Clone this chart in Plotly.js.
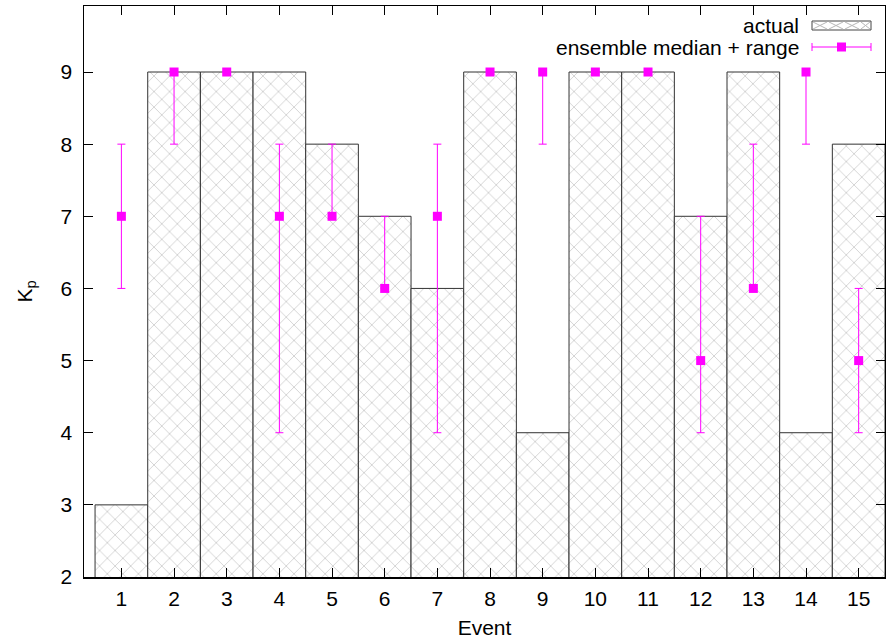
<!DOCTYPE html>
<html><head><meta charset="utf-8">
<script src="https://cdn.plot.ly/plotly-3.0.1.min.js"></script>
<style>body{margin:0;background:#fff}#c{width:886px;height:642px}</style>
</head><body><div id="c"></div>
<script>
const events = [1,2,3,4,5,6,7,8,9,10,11,12,13,14,15];
const actual = [3,9,9,9,8,7,6,9,4,9,9,7,9,4,8];
const median = [7,9,9,7,7,6,7,9,9,9,9,5,6,9,5];
const rangeLow = [6,8,9,4,7,6,4,9,8,9,9,4,6,8,4];
const rangeHigh = [8,9,9,8,8,7,8,9,9,9,9,7,8,9,6];
const yTicks = [2,3,4,5,6,7,8,9];

const L=84,R=885,T=6,B=577;
const px = p => (p-L)/(R-L);
const py = p => (B-p)/(B-T);
const font = {family:'Liberation Sans, Arial, sans-serif', size:21, color:'#000'};
const mag = '#ff00ff';

const traces = [
 {type:'bar', x:events, y:actual, base:0, width:1,
  marker:{color:'#fff', line:{color:'#333', width:1},
   pattern:{shape:'x', fgcolor:'#b4b4b4', bgcolor:'#fff', size:11, solidity:0.1}},
  showlegend:false, hoverinfo:'skip'},
 {type:'scatter', mode:'markers', x:events, y:median,
  marker:{color:mag, symbol:'square', size:9},
  error_y:{type:'data', symmetric:false,
   array: rangeHigh.map((h,i)=>h-median[i]),
   arrayminus: median.map((m,i)=>m-rangeLow[i]),
   color:mag, thickness:1, width:4},
  showlegend:false}
];

const shapes = [];
shapes.push({type:'rect', xref:'paper', yref:'paper', x0:px(812), x1:px(871), y0:py(30), y1:py(21), line:{color:'#444',width:1}, fillcolor:'#fff'});
for (let k=813; k<866; k+=16) {
  const k2 = Math.min(k+14, 870);
  shapes.push({type:'line', xref:'paper', yref:'paper', x0:px(k), x1:px(k2), y0:py(22), y1:py(29), line:{color:'#b8b8b8',width:1}});
  shapes.push({type:'line', xref:'paper', yref:'paper', x0:px(k), x1:px(k2), y0:py(29), y1:py(22), line:{color:'#b8b8b8',width:1}});
}
shapes.push({type:'line', xref:'paper', yref:'paper', x0:px(812), x1:px(871), y0:py(47), y1:py(47), line:{color:mag,width:1}});
shapes.push({type:'line', xref:'paper', yref:'paper', x0:px(812), x1:px(812), y0:py(43), y1:py(51), line:{color:mag,width:1}});
shapes.push({type:'line', xref:'paper', yref:'paper', x0:px(871), x1:px(871), y0:py(43), y1:py(51), line:{color:mag,width:1}});
shapes.push({type:'rect', xref:'paper', yref:'paper', x0:px(837), x1:px(846), y0:py(51.5), y1:py(42.5), line:{width:0}, fillcolor:mag});

const annotations = [
 {xref:'paper', yref:'paper', x:px(801), y:py(25), xanchor:'right', yanchor:'middle', text:'actual', showarrow:false, font:font},
 {xref:'paper', yref:'paper', x:px(801), y:py(47), xanchor:'right', yanchor:'middle', text:'ensemble median + range', showarrow:false, font:font}
];

const layout = {
 width:886, height:642,
 margin:{l:L, r:886-R, t:T, b:642-B, pad:0},
 paper_bgcolor:'#fff', plot_bgcolor:'#fff',
 font:font, bargap:0, showlegend:false,
 xaxis:{range:[0.29,15.5], tickvals:events, ticktext:events.map(String),
  ticks:'inside', ticklen:9, tickcolor:'#000', showline:true, linecolor:'#000', linewidth:1.5, mirror:'ticks',
  showgrid:false, zeroline:false, tickfont:font, ticklabelstandoff:2,
  title:{text:'Event', font:font, standoff:11}},
 yaxis:{range:[2,9.915], tickvals:yTicks, ticktext:yTicks.map(String),
  ticks:'inside', ticklen:9, tickcolor:'#000', showline:true, linecolor:'#000', linewidth:1.5, mirror:'ticks',
  showgrid:false, zeroline:false, tickfont:font, ticklabelstandoff:6,
  title:{text:'K<sub>p</sub>', font:font, standoff:22}},
 shapes:shapes, annotations:annotations
};
Plotly.newPlot('c', traces, layout, {displayModeBar:false, staticPlot:true});
</script></body></html>
